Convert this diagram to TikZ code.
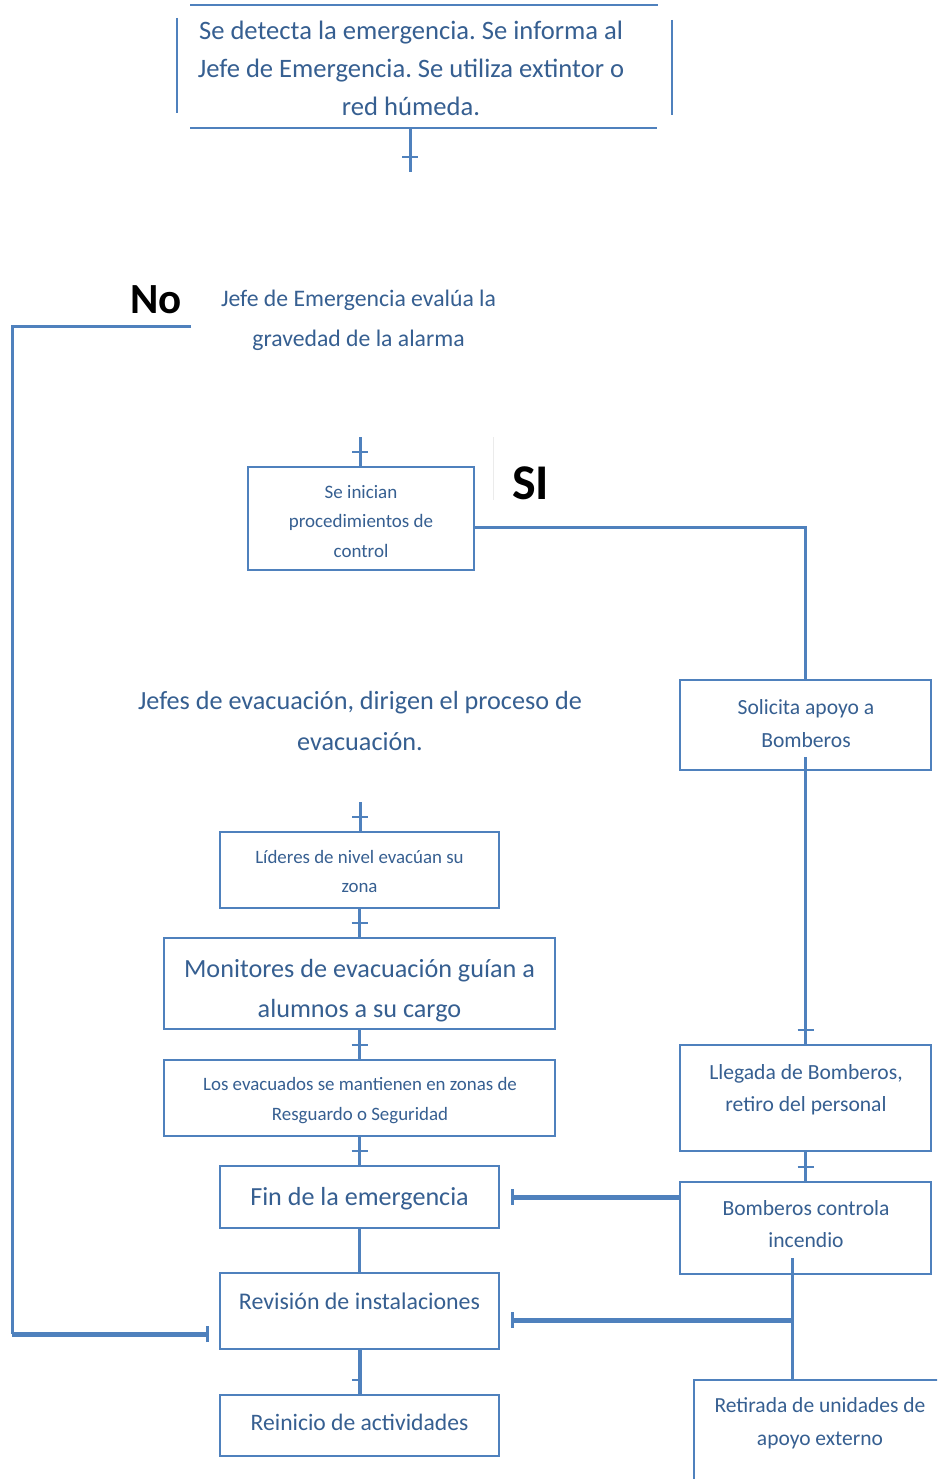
\documentclass[tikz,border=0pt]{standalone}
\usepackage{fontspec}
\setmainfont{Carlito}
\usetikzlibrary{calc,decorations.markings}
\definecolor{ln}{HTML}{4F81BD}
\definecolor{tx}{HTML}{365F91}
\newcommand{\fs}[2]{\fontsize{#1pt}{#2pt}\selectfont}
\frenchspacing
\begin{document}
\begin{tikzpicture}[x=1pt,y=-1pt,
  box/.style={draw=ln,line width=2pt,inner sep=0pt,outer sep=0pt},
  txt/.style={text=tx,align=center,inner sep=0pt},
  lbl/.style={text=black,inner sep=0pt,font=\bfseries},
  conn/.style={draw=ln,line width=3pt},
  heavy/.style={draw=ln,line width=5pt},
  tickat/.style={postaction={decorate,decoration={markings,mark=at position #1 with {\draw[draw=ln,line width=2.4pt] (0pt,-8pt)--(0pt,8pt);}}}},
  halftickat/.style={postaction={decorate,decoration={markings,mark=at position #1 with {\draw[draw=ln,line width=2.4pt] (0pt,0pt)--(0pt,-8pt);}}}},
]
\useasboundingbox (0,0) rectangle (937,1479);
\clip (0,0) rectangle (937,1479);
\fill[white] (0,0) rectangle (937,1479);

% top box (open corners)
\node[inner sep=0pt,outer sep=0pt,minimum width=495pt,minimum height=123pt] (top) at (424.5,66.5) {};
\draw[draw=ln,line width=2pt] ($(top.north west)+(13,0)$) -- ($(top.north east)+(-14,0)$);
\draw[draw=ln,line width=2pt] ($(top.south west)+(13,0)$) -- ($(top.south east)+(-15,0)$);
\draw[draw=ln,line width=2pt] ($(top.north west)+(0,13)$) -- ($(top.south west)+(0,-15)$);
\draw[draw=ln,line width=2pt] ($(top.north east)+(0,15)$) -- ($(top.south east)+(0,-13)$);
\node[txt,font=\fs{26.6}{38}] (toptxt) at (411,68.5) {Se detecta la emergencia. Se informa al\\Jefe de Emergencia. Se utiliza extintor o\\red húmeda.};
\coordinate (c1) at (410,172);
\draw[conn,tickat=-15pt] (top.south -| c1) -- (c1);

% evaluation
\node[lbl,font=\bfseries\fs{43}{43}] (no) at (156,300) {No};
\node[txt,font=\fs{23.7}{40}] (jefe) at (358.5,320) {Jefe de Emergencia evalúa la\\gravedad de la alarma};
\coordinate (n0) at (191,326);

% control
\node[box,minimum width=226pt,minimum height=103pt] (ini) at (361,518.5) {};
\node[txt,font=\fs{19}{29.5}] (initxt) at (361,521.5) {Se inician\\procedimientos de\\control};
\coordinate (c2) at (360,437);
\draw[conn,tickat=-15pt] (c2) -- (c2 |- ini.north);
\draw[black!8,line width=0.8pt] (493,437) -- (493,500);
\node[lbl,font=\bfseries\fs{50}{50}] (si) at (530.5,483) {SI};

% right column
\node[box,minimum width=251pt,minimum height=90pt] (sol) at (805.5,725) {};
\node[txt,font=\fs{21.6}{33}] (soltxt) at (806,723.5) {Solicita apoyo a\\Bomberos};
\draw[conn] ($(ini.east)+(0,8.5)$) -| (sol.north);

\node[box,minimum width=251pt,minimum height=106pt] (lle) at (805.5,1098) {};
\node[txt,font=\fs{21.6}{32}] (lletxt) at (806,1090) {Llegada de Bomberos,\\retiro del personal};
\draw[conn,tickat=-15pt] ($(sol.south)+(0,-13)$) -- (lle.north);

\node[box,minimum width=251pt,minimum height=92pt] (bc) at (805.5,1228) {};
\node[txt,font=\fs{21.6}{32}] (bctxt) at (806,1224) {Bomberos controla\\incendio};
\draw[conn,tickat=-15pt] (lle.south) -- (bc.north);

\node[box,minimum width=266pt,minimum height=120pt] (ret) at (827,1440) {};
\node[txt,font=\fs{21.5}{33}] (rettxt) at (820,1423.5) {Retirada de unidades de\\apoyo externo};

% left column
\node[txt,font=\fs{26.2}{41}] (jevac) at (360,720.5) {Jefes de evacuación, dirigen el proceso de\\evacuación.};
\coordinate (c3) at (360,802);

\node[box,minimum width=279pt,minimum height=76pt] (lid) at (359.5,870) {};
\node[txt,font=\fs{18.9}{29}] (lidtxt) at (359.5,871.5) {Líderes de nivel evacúan su\\zona};
\draw[conn,tickat=-15pt] (c3) -- (c3 |- lid.north);

\node[box,minimum width=391pt,minimum height=91pt] (mon) at (359.5,983.5) {};
\node[txt,font=\fs{26.2}{40}] (montxt) at (359.5,991) {Monitores de evacuación guían a\\alumnos a su cargo};
\draw[conn,tickat=-15pt] (lid.south) -- (mon.north);

\node[box,minimum width=391pt,minimum height=76pt] (eva) at (359.5,1098) {};
\node[txt,font=\fs{18.9}{30}] (evatxt) at (360,1101) {Los evacuados se mantienen en zonas de\\Resguardo o Seguridad};
\draw[conn,tickat=-15pt] (mon.south) -- (eva.north);

\node[box,minimum width=279pt,minimum height=62pt] (fin) at (359.5,1197) {};
\node[txt,font=\fs{26.1}{30}] (fintxt) at (359.5,1199) {Fin de la emergencia};
\draw[conn,tickat=-15pt] (eva.south) -- (fin.north);

\node[box,minimum width=279pt,minimum height=76pt] (rev) at (359.5,1311) {};
\node[txt,font=\fs{23.9}{30}] (revtxt) at (359.5,1301) {Revisión de instalaciones};
\draw[draw=ln,line width=3.5pt] (fin.south) -- (rev.north);

\node[box,minimum width=279pt,minimum height=61pt] (rei) at (359.5,1425.5) {};
\node[txt,font=\fs{23.6}{30}] (reitxt) at (359.5,1422) {Reinicio de actividades};
\draw[draw=ln,line width=4pt,halftickat=-15pt] (rev.south) -- (rei.north);

% cross connectors
\draw[heavy,tickat=-0.5pt] ($(bc.west)+(0,-31)$) -- ($(fin.east)+(13,0)$);
\coordinate (bj) at (792,1320);
\draw[conn] ($(bc.south)+(-13.5,-16)$) -- (ret.north -| bj);
\draw[heavy,tickat=-0.5pt] (bj) -- ($(rev.east)+(13,9)$);

% No loop
\draw[conn] (n0) -| (12,1334);
\draw[heavy,tickat=-0.5pt] (12,1334) -- ($(rev.south west)+(-12,-15)$);
\end{tikzpicture}
\end{document}
